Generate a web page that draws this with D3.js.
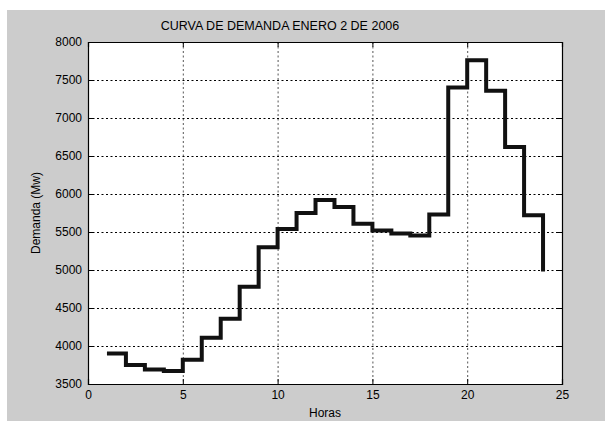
<!DOCTYPE html>
<html><head><meta charset="utf-8">
<script src="https://cdn.jsdelivr.net/npm/d3@7"></script>
<style>body{margin:0;background:#fff}svg{display:block}text{font-family:"Liberation Sans",Arial,sans-serif;fill:#000}</style>
</head><body>
<script>
const hours = d3.range(1, 25);
const demand = [3900,3750,3690,3670,3820,4110,4360,4780,5300,5540,5750,5920,5830,5610,5520,5480,5455,5730,7400,7760,7360,6620,5720,4980];
const xTicks = [0,5,10,15,20,25];
const yTicks = [3500,4000,4500,5000,5500,6000,6500,7000,7500,8000];
const title = "CURVA DE DEMANDA ENERO 2 DE 2006";
const xLabel = "Horas";
const yLabel = "Demanda (Mw)";

const W = 605, H = 421;
const m = {l: 88, t: 42, r: 562, b: 384};
const svg = d3.select("body").append("svg").attr("width", W).attr("height", H);
svg.append("rect").attr("x", 7).attr("y", 10).attr("width", W - 7).attr("height", H - 10).attr("fill", "#cccccc");
svg.append("rect").attr("x", m.l).attr("y", m.t).attr("width", m.r - m.l).attr("height", m.b - m.t).attr("fill", "#fff");

const x = d3.scaleLinear().domain([0, 25]).range([m.l, m.r]);
const y = d3.scaleLinear().domain([3500, 8000]).range([m.b, m.t]);

// grid
svg.append("g").selectAll("line").data(xTicks.slice(1, -1)).join("line")
  .attr("x1", d => x(d) + 0.5).attr("x2", d => x(d) + 0.5).attr("y1", m.t).attr("y2", m.b)
  .attr("stroke", "#555").attr("stroke-width", 1).attr("stroke-dasharray", "2,2.5");
svg.append("g").selectAll("line").data(yTicks.slice(1, -1)).join("line")
  .attr("y1", d => Math.round(y(d)) + 0.5).attr("y2", d => Math.round(y(d)) + 0.5).attr("x1", m.l).attr("x2", m.r)
  .attr("stroke", "#000").attr("stroke-width", 1).attr("stroke-dasharray", "2,2.5");

// stairs
const pts = hours.map((h, i) => [h, demand[i]]);
const line = d3.line().x(d => x(d[0])).y(d => y(d[1])).curve(d3.curveStepAfter);
svg.append("path").datum(pts).attr("d", line).attr("fill", "none")
  .attr("stroke", "#111").attr("stroke-width", 4).attr("stroke-linejoin", "miter").attr("stroke-linecap", "butt");

// axes
const xa = svg.append("g").attr("transform", `translate(0,${m.b})`)
  .call(d3.axisBottom(x).tickValues(xTicks).tickSize(-5).tickPadding(6).tickFormat(d3.format("d")));
const ya = svg.append("g").attr("transform", `translate(${m.l},0)`)
  .call(d3.axisLeft(y).tickValues(yTicks).tickSize(-5).tickPadding(6).tickFormat(d3.format("d")));
const xt = svg.append("g").attr("transform", `translate(0,${m.t})`)
  .call(d3.axisTop(x).tickValues(xTicks).tickSize(-5).tickFormat(""));
const yt = svg.append("g").attr("transform", `translate(${m.r},0)`)
  .call(d3.axisRight(y).tickValues(yTicks).tickSize(-5).tickFormat(""));
[xa, ya, xt, yt].forEach(g => {
  g.selectAll("path").attr("stroke", "#000").attr("stroke-width", 1.2);
  g.selectAll("line").attr("stroke", "#000");
  g.selectAll("text").attr("font-size", 12).attr("font-family", "Liberation Sans, Arial, sans-serif").attr("fill", "#000");
});

svg.append("text").attr("x", (m.l + m.r) / 2 - 45).attr("y", 30).attr("text-anchor", "middle")
  .attr("font-size", 12.5).text(title);
svg.append("text").attr("x", (m.l + m.r) / 2).attr("y", 417).attr("text-anchor", "middle")
  .attr("font-size", 12).text(xLabel);
svg.append("text").attr("transform", `translate(40,${(m.t + m.b) / 2}) rotate(-90)`).attr("text-anchor", "middle")
  .attr("font-size", 12).text(yLabel);
</script>
</body></html>
